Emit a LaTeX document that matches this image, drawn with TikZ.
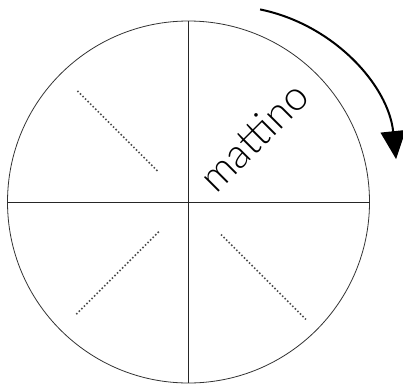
\documentclass[tikz,border=0pt]{standalone}
\usepackage{fontspec}
\usetikzlibrary{arrows.meta,calc}
\newfontfamily\clockfont{Lato Light}

\begin{document}
\begin{tikzpicture}[x=1pt,y=1pt]
      \useasboundingbox (0,0) rectangle (403,384);
      \coordinate (c) at (188.5,182);
      \draw[black!80,line width=0.8pt] (c) circle (181);
      \draw[black!85,line width=1pt] ($(c)+(0,181)$) -- ($(c)+(0,-181)$);
      \draw[black!85,line width=1pt] ($(c)+(-181,0)$) -- ($(c)+(181,0)$);
      \draw[black!70,line width=1.7pt,dash pattern=on 1.5pt off 2.1pt] ($(c)+(135:44)$) -- ($(c)+(135:159)$);
      \draw[black!70,line width=1.7pt,dash pattern=on 1.5pt off 2.1pt] ($(c)+(225:42)$) -- ($(c)+(225:160)$);
      \draw[black!70,line width=1.7pt,dash pattern=on 1.5pt off 2.1pt] ($(c)+(-45:46)$) -- ($(c)+(-45:166)$);
      \node[rotate=45,font=\clockfont\fontsize{41}{43}\selectfont] (mattino) at ($(c)+(45:92)$) {mattino};
      % arrow: its own centre, a bit right of the clock
      \coordinate (a) at (226,207);
      \draw[line width=2pt,-{Triangle[length=28pt,width=25pt]}] ($(a)+(78.5:171)$) arc (78.5:6:171);
    \end{tikzpicture}
\end{document}
